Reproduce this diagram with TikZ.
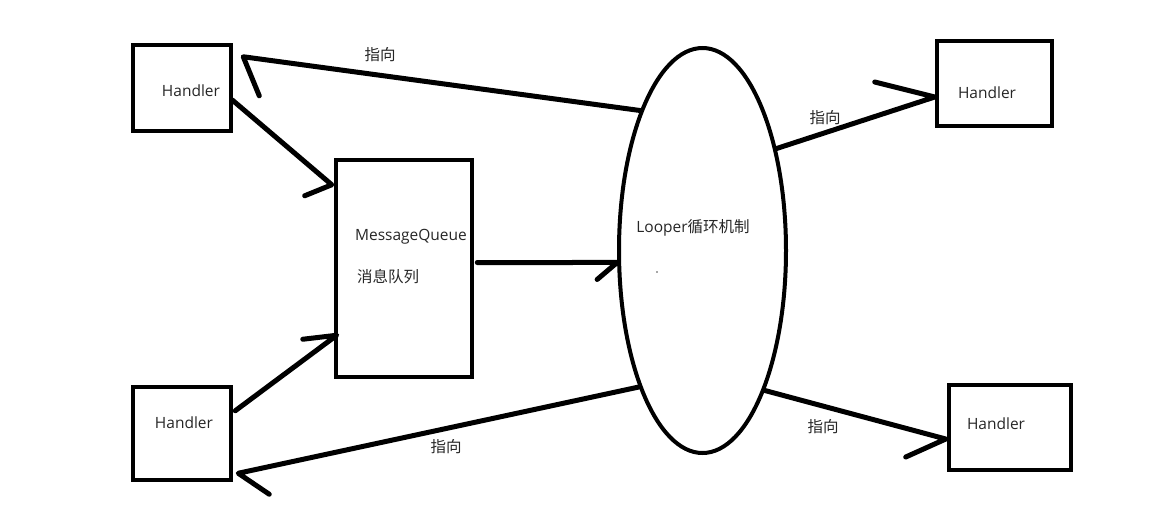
\documentclass[tikz,border=0pt]{standalone}
\usepackage{fontspec}
\setmainfont{Open Sans}
\newfontfamily\cjk{Noto Sans CJK SC}
\usetikzlibrary{shapes.geometric}
\begin{document}
\begin{tikzpicture}[x=1pt,y=-1pt,
  box/.style={draw, line width=4.5pt, rectangle, inner sep=0pt},
  conn/.style={line width=5pt, line cap=round, line join=round},
  txt/.style={font=\fontsize{15.5}{18}\selectfont, inner sep=0pt, text=black!85}]
\useasboundingbox (0,0) rectangle (1176,520);
% boxes
\node[box, minimum width=98pt, minimum height=86pt] (h1) at (182,88) {};
\node[box, minimum width=98pt, minimum height=93pt] (h2) at (182,433.5) {};
\node[box, minimum width=136pt, minimum height=217pt] (mq) at (404,268.5) {};
\node[box, minimum width=115pt, minimum height=85pt] (h3) at (994.5,83.5) {};
\node[box, minimum width=122pt, minimum height=85pt] (h4) at (1010,427.5) {};
\node[draw, ellipse, line width=4pt, minimum width=167pt, minimum height=405pt, inner sep=0pt] (looper) at (702.5,250.5) {};
% texts
\node[txt] (t1) at (191,91) {Handler};
\node[txt] (t2) at (184,423) {Handler};
\node[txt] (t3) at (987,93) {Handler};
\node[txt] (t4) at (996,424) {Handler};
\node[txt] (tmq) at (411,237) {MessageQueue};
\node[txt, anchor=west] (tmq2) at (357,277) {\cjk 消息队列};
\node[txt] (tl) at (693,228) {Looper{\cjk 循环机制}};
\fill[black!70] (657,272) circle (0.8);
% labels
\node[txt] (l1) at (380,55) {\cjk 指向};
\node[txt] (l2) at (825,118) {\cjk 指向};
\node[txt] (l3) at (823,427) {\cjk 指向};
\node[txt] (l4) at (446,447) {\cjk 指向};
% connectors
\draw[conn] (looper.114) -- ([shift={(10,14)}]h1.north east) -- ++(16,39);
\draw[conn] ([shift={(-1,12)}]h1.east) -- ([shift={(-2,27)}]mq.north west) -- ++(-27,11);
\draw[conn] ([shift={(2,26)}]h2.north east) -- ([shift={(3,-44)}]mq.south west) -- ++(-34,4);
\draw[conn] ([shift={(3,-6)}]mq.east) -- (looper.188) -- ++(-20,17);
\draw[conn] (looper.54) -- ([shift={(0,13.5)}]h3.west) -- ++(-60,-15);
\draw[conn] (looper.-66) -- ([shift={(-1,11.5)}]h4.west) -- ++(-40,18);
\draw[conn] (looper.245) -- ([shift={(5,-9)}]h2.south east) -- ++(31,21);
\end{tikzpicture}
\end{document}
